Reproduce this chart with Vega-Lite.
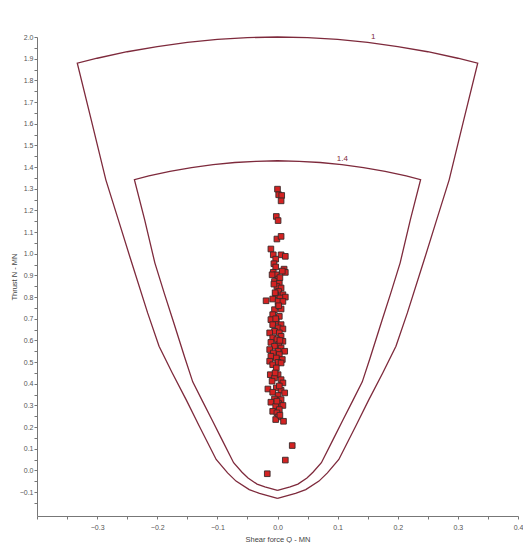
{
  "$schema": "https://vega.github.io/schema/vega-lite/v6.json",
  "width": 481,
  "height": 479,
  "autosize": {"type": "none"},
  "padding": {"left": 37, "top": 37, "right": 5, "bottom": 27},
  "background": "white",
  "config": {
    "view": {"stroke": null},
    "font": "Liberation Sans",
    "axis": {
      "grid": false,
      "domainColor": "#777",
      "tickColor": "#777",
      "tickSize": 3,
      "labelColor": "#555",
      "labelFontSize": 7,
      "labelOverlap": false,
      "titleFontSize": 7.5,
      "titleFontWeight": "normal",
      "titleColor": "#444"
    }
  },
  "datasets": {
    "env": [
      {"c": "outer", "i": 1, "q": 0, "n": -0.129},
      {"c": "outer", "i": 2, "q": -0.03, "n": -0.106},
      {"c": "outer", "i": 3, "q": -0.047, "n": -0.088},
      {"c": "outer", "i": 4, "q": -0.069, "n": -0.049},
      {"c": "outer", "i": 5, "q": -0.083, "n": -0.011},
      {"c": "outer", "i": 6, "q": -0.102, "n": 0.051},
      {"c": "outer", "i": 7, "q": -0.13, "n": 0.204},
      {"c": "outer", "i": 8, "q": -0.152, "n": 0.327},
      {"c": "outer", "i": 9, "q": -0.175, "n": 0.45},
      {"c": "outer", "i": 10, "q": -0.197, "n": 0.573},
      {"c": "outer", "i": 11, "q": -0.216, "n": 0.727},
      {"c": "outer", "i": 12, "q": -0.244, "n": 0.972},
      {"c": "outer", "i": 13, "q": -0.263, "n": 1.141},
      {"c": "outer", "i": 14, "q": -0.2855, "n": 1.341},
      {"c": "outer", "i": 15, "q": -0.31, "n": 1.62},
      {"c": "outer", "i": 16, "q": -0.333, "n": 1.879},
      {"c": "outer", "i": 17, "q": -0.3, "n": 1.902},
      {"c": "outer", "i": 18, "q": -0.25, "n": 1.932},
      {"c": "outer", "i": 19, "q": -0.2, "n": 1.956},
      {"c": "outer", "i": 20, "q": -0.15, "n": 1.975},
      {"c": "outer", "i": 21, "q": -0.1, "n": 1.989},
      {"c": "outer", "i": 22, "q": -0.05, "n": 1.997},
      {"c": "outer", "i": 23, "q": 0, "n": 2.0},
      {"c": "outer", "i": 24, "q": 0.05, "n": 1.997},
      {"c": "outer", "i": 25, "q": 0.1, "n": 1.989},
      {"c": "outer", "i": 26, "q": 0.15, "n": 1.975},
      {"c": "outer", "i": 27, "q": 0.2, "n": 1.956},
      {"c": "outer", "i": 28, "q": 0.25, "n": 1.932},
      {"c": "outer", "i": 29, "q": 0.3, "n": 1.902},
      {"c": "outer", "i": 30, "q": 0.333, "n": 1.879},
      {"c": "outer", "i": 31, "q": 0.31, "n": 1.62},
      {"c": "outer", "i": 32, "q": 0.2855, "n": 1.341},
      {"c": "outer", "i": 33, "q": 0.263, "n": 1.141},
      {"c": "outer", "i": 34, "q": 0.244, "n": 0.972},
      {"c": "outer", "i": 35, "q": 0.216, "n": 0.727},
      {"c": "outer", "i": 36, "q": 0.197, "n": 0.573},
      {"c": "outer", "i": 37, "q": 0.175, "n": 0.45},
      {"c": "outer", "i": 38, "q": 0.152, "n": 0.327},
      {"c": "outer", "i": 39, "q": 0.13, "n": 0.204},
      {"c": "outer", "i": 40, "q": 0.102, "n": 0.051},
      {"c": "outer", "i": 41, "q": 0.083, "n": -0.011},
      {"c": "outer", "i": 42, "q": 0.069, "n": -0.049},
      {"c": "outer", "i": 43, "q": 0.047, "n": -0.088},
      {"c": "outer", "i": 44, "q": 0.03, "n": -0.106},
      {"c": "outer", "i": 45, "q": 0, "n": -0.129},
      {"c": "inner", "i": 1, "q": 0, "n": -0.092},
      {"c": "inner", "i": 2, "q": -0.021, "n": -0.076},
      {"c": "inner", "i": 3, "q": -0.034, "n": -0.063},
      {"c": "inner", "i": 4, "q": -0.049, "n": -0.035},
      {"c": "inner", "i": 5, "q": -0.059, "n": -0.008},
      {"c": "inner", "i": 6, "q": -0.073, "n": 0.036},
      {"c": "inner", "i": 7, "q": -0.093, "n": 0.146},
      {"c": "inner", "i": 8, "q": -0.109, "n": 0.234},
      {"c": "inner", "i": 9, "q": -0.125, "n": 0.321},
      {"c": "inner", "i": 10, "q": -0.141, "n": 0.409},
      {"c": "inner", "i": 11, "q": -0.154, "n": 0.519},
      {"c": "inner", "i": 12, "q": -0.174, "n": 0.694},
      {"c": "inner", "i": 13, "q": -0.188, "n": 0.815},
      {"c": "inner", "i": 14, "q": -0.204, "n": 0.958},
      {"c": "inner", "i": 15, "q": -0.221, "n": 1.157},
      {"c": "inner", "i": 16, "q": -0.238, "n": 1.342},
      {"c": "inner", "i": 17, "q": -0.214, "n": 1.359},
      {"c": "inner", "i": 18, "q": -0.179, "n": 1.38},
      {"c": "inner", "i": 19, "q": -0.143, "n": 1.397},
      {"c": "inner", "i": 20, "q": -0.107, "n": 1.411},
      {"c": "inner", "i": 21, "q": -0.071, "n": 1.421},
      {"c": "inner", "i": 22, "q": -0.036, "n": 1.426},
      {"c": "inner", "i": 23, "q": 0, "n": 1.429},
      {"c": "inner", "i": 24, "q": 0.036, "n": 1.426},
      {"c": "inner", "i": 25, "q": 0.071, "n": 1.421},
      {"c": "inner", "i": 26, "q": 0.107, "n": 1.411},
      {"c": "inner", "i": 27, "q": 0.143, "n": 1.397},
      {"c": "inner", "i": 28, "q": 0.179, "n": 1.38},
      {"c": "inner", "i": 29, "q": 0.214, "n": 1.359},
      {"c": "inner", "i": 30, "q": 0.238, "n": 1.342},
      {"c": "inner", "i": 31, "q": 0.221, "n": 1.157},
      {"c": "inner", "i": 32, "q": 0.204, "n": 0.958},
      {"c": "inner", "i": 33, "q": 0.188, "n": 0.815},
      {"c": "inner", "i": 34, "q": 0.174, "n": 0.694},
      {"c": "inner", "i": 35, "q": 0.154, "n": 0.519},
      {"c": "inner", "i": 36, "q": 0.141, "n": 0.409},
      {"c": "inner", "i": 37, "q": 0.125, "n": 0.321},
      {"c": "inner", "i": 38, "q": 0.109, "n": 0.234},
      {"c": "inner", "i": 39, "q": 0.093, "n": 0.146},
      {"c": "inner", "i": 40, "q": 0.073, "n": 0.036},
      {"c": "inner", "i": 41, "q": 0.059, "n": -0.008},
      {"c": "inner", "i": 42, "q": 0.049, "n": -0.035},
      {"c": "inner", "i": 43, "q": 0.034, "n": -0.063},
      {"c": "inner", "i": 44, "q": 0.021, "n": -0.076},
      {"c": "inner", "i": 45, "q": 0, "n": -0.092}
    ],
    "pts": [
      {"q": 0.0, "n": 1.298}, {"q": 0.002, "n": 1.272}, {"q": 0.007, "n": 1.269}, {"q": 0.006, "n": 1.244},
      {"q": -0.002, "n": 1.172}, {"q": 0.001, "n": 1.153}, {"q": -0.001, "n": 1.068}, {"q": 0.006, "n": 1.08},
      {"q": -0.011, "n": 1.022}, {"q": -0.007, "n": 0.995}, {"q": 0.006, "n": 0.995}, {"q": 0.013, "n": 0.988},
      {"q": -0.003, "n": 0.975}, {"q": -0.006, "n": 0.954}, {"q": -0.003, "n": 0.939}, {"q": 0.011, "n": 0.929},
      {"q": 0.013, "n": 0.914}, {"q": -0.007, "n": 0.914}, {"q": -0.002, "n": 0.903}, {"q": -0.009, "n": 0.903},
      {"q": 0.001, "n": 0.883}, {"q": -0.005, "n": 0.872}, {"q": 0.003, "n": 0.865}, {"q": -0.001, "n": 0.849},
      {"q": 0.006, "n": 0.842}, {"q": 0.002, "n": 0.826}, {"q": -0.003, "n": 0.811}, {"q": 0.009, "n": 0.811},
      {"q": 0.013, "n": 0.8}, {"q": 0.004, "n": 0.796}, {"q": -0.008, "n": 0.791}, {"q": -0.019, "n": 0.783},
      {"q": 0.001, "n": 0.78}, {"q": 0.009, "n": 0.78}, {"q": 0.001, "n": 0.757}, {"q": -0.005, "n": 0.742},
      {"q": 0.006, "n": 0.745}, {"q": -0.008, "n": 0.719}, {"q": 0.003, "n": 0.711}, {"q": -0.011, "n": 0.696},
      {"q": -0.002, "n": 0.688}, {"q": -0.008, "n": 0.673}, {"q": 0.006, "n": 0.673}, {"q": 0.001, "n": 0.658},
      {"q": 0.009, "n": 0.653}, {"q": -0.005, "n": 0.642}, {"q": 0.003, "n": 0.635}, {"q": -0.013, "n": 0.635},
      {"q": 0.006, "n": 0.619}, {"q": -0.008, "n": 0.612}, {"q": -0.001, "n": 0.604}, {"q": 0.009, "n": 0.596},
      {"q": -0.011, "n": 0.591}, {"q": 0.002, "n": 0.581}, {"q": -0.005, "n": 0.573}, {"q": 0.006, "n": 0.565},
      {"q": -0.013, "n": 0.558}, {"q": 0.001, "n": 0.55}, {"q": 0.012, "n": 0.55}, {"q": -0.007, "n": 0.542},
      {"q": 0.003, "n": 0.535}, {"q": -0.011, "n": 0.527}, {"q": -0.002, "n": 0.519}, {"q": 0.008, "n": 0.512},
      {"q": -0.013, "n": 0.504}, {"q": 0.001, "n": 0.499}, {"q": -0.008, "n": 0.488}, {"q": 0.006, "n": 0.496},
      {"q": -0.002, "n": 0.473}, {"q": -0.012, "n": 0.442}, {"q": 0.001, "n": 0.442}, {"q": -0.005, "n": 0.427},
      {"q": 0.006, "n": 0.419}, {"q": -0.009, "n": 0.412}, {"q": 0.009, "n": 0.404}, {"q": -0.016, "n": 0.376},
      {"q": -0.002, "n": 0.381}, {"q": 0.006, "n": 0.37}, {"q": -0.008, "n": 0.361}, {"q": 0.012, "n": 0.358},
      {"q": 0.001, "n": 0.346}, {"q": -0.005, "n": 0.33}, {"q": 0.006, "n": 0.327}, {"q": -0.011, "n": 0.315},
      {"q": 0.002, "n": 0.309}, {"q": 0.009, "n": 0.3}, {"q": -0.003, "n": 0.296}, {"q": 0.003, "n": 0.281},
      {"q": -0.008, "n": 0.273}, {"q": -0.001, "n": 0.266}, {"q": 0.001, "n": 0.247}, {"q": -0.003, "n": 0.235},
      {"q": 0.01, "n": 0.227}, {"q": 0.004, "n": 0.89}, {"q": -0.004, "n": 0.82}, {"q": 0.002, "n": 0.76},
      {"q": -0.003, "n": 0.7}, {"q": 0.004, "n": 0.6}, {"q": -0.004, "n": 0.45}, {"q": 0.003, "n": 0.39},
      {"q": -0.001, "n": 0.32}, {"q": 0.004, "n": 0.255}, {"q": -0.006, "n": 0.86}, {"q": 0.008, "n": 0.92},
      {"q": 0.0245, "n": 0.115}, {"q": 0.013, "n": 0.048}, {"q": -0.017, "n": -0.015}
    ],
    "labels": [
      {"t": "1", "q": 0.159, "n": 1.975},
      {"t": "1.4", "q": 0.108, "n": 1.412}
    ]
  },
  "layer": [
    {
      "data": {"name": "env"},
      "mark": {"type": "line", "color": "#7e2a3c", "strokeWidth": 1.3, "interpolate": "linear"},
      "encoding": {
        "x": {
          "field": "q", "type": "quantitative",
          "scale": {"domain": [-0.4, 0.4], "nice": false, "zero": false},
          "title": "Shear force Q - MN",
          "axis": {
            "values": [-0.4, -0.35, -0.3, -0.25, -0.2, -0.15, -0.1, -0.05, 0, 0.05, 0.1, 0.15, 0.2, 0.25, 0.3, 0.35, 0.4],
            "tickCount": 200,
            "labelExpr": "(abs(datum.value * 10 - round(datum.value * 10)) < 0.01 && datum.value > -0.39) ? format(datum.value, '.1f') : ''",
            "labelPadding": 4,
            "titlePadding": 5,
            "labelFlush": false
          }
        },
        "y": {
          "field": "n", "type": "quantitative",
          "scale": {"domain": [-0.21, 2.0], "nice": false, "zero": false},
          "title": "Thrust N - MN",
          "axis": {
            "values": [-0.15, -0.1, -0.05, 0, 0.05, 0.1, 0.15, 0.2, 0.25, 0.3, 0.35, 0.4, 0.45, 0.5, 0.55, 0.6, 0.65, 0.7, 0.75, 0.8, 0.85, 0.9, 0.95, 1.0, 1.05, 1.1, 1.15, 1.2, 1.25, 1.3, 1.35, 1.4, 1.45, 1.5, 1.55, 1.6, 1.65, 1.7, 1.75, 1.8, 1.85, 1.9, 1.95, 2.0],
            "tickCount": 200,
            "labelExpr": "(abs(datum.value * 10 - round(datum.value * 10)) < 0.01) ? format(datum.value, '.1f') : ''",
            "labelPadding": 1,
            "titlePadding": 1,
            "labelFlush": false
          }
        },
        "detail": {"field": "c"},
        "order": {"field": "i", "type": "quantitative"}
      }
    },
    {
      "mark": {"type": "rule", "color": "#666", "strokeWidth": 1},
      "encoding": {"y": {"datum": 0}}
    },
    {
      "mark": {"type": "rule", "color": "#555", "strokeWidth": 1},
      "encoding": {"x": {"datum": 0}}
    },
    {
      "data": {"name": "pts"},
      "mark": {"type": "point", "shape": "square", "filled": true, "size": 32, "color": "#d42222", "stroke": "#3a2a2a", "strokeWidth": 0.9, "opacity": 1},
      "encoding": {
        "x": {"field": "q", "type": "quantitative"},
        "y": {"field": "n", "type": "quantitative"}
      }
    },
    {
      "data": {"name": "labels"},
      "mark": {"type": "text", "color": "#7e2a3c", "fontSize": 8, "baseline": "bottom", "align": "center", "dy": -1},
      "encoding": {
        "x": {"field": "q", "type": "quantitative"},
        "y": {"field": "n", "type": "quantitative"},
        "text": {"field": "t"}
      }
    }
  ]
}
